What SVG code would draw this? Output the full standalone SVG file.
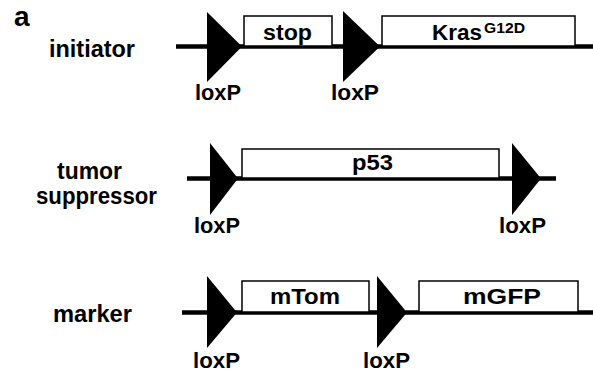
<svg xmlns="http://www.w3.org/2000/svg" width="593" height="375" viewBox="0 0 593 375">
<style>
text{font-family:"Liberation Sans",Arial,sans-serif;font-weight:bold;fill:#000}
.lbl{font-size:23px}
.box{fill:#fff;stroke:#000;stroke-width:1.5}
.dna{stroke:#000;stroke-width:4.5;fill:none}
.lox{fill:#000}
.bl{font-size:22px}
.lx{font-size:22px}
</style>
<rect width="593" height="375" fill="#fff"/>
<text x="14" y="26" style="font-size:28px">a</text>
<g id="connectors">
<line class="dna" x1="176" y1="46.5" x2="593" y2="46.5"/>
<line class="dna" x1="187" y1="178.5" x2="556" y2="178.5"/>
<line class="dna" x1="182" y1="312.5" x2="593" y2="312.5"/>
</g>
<g id="initiator">
<text class="lbl" x="49" y="57" textLength="86" lengthAdjust="spacingAndGlyphs">initiator</text>
<rect class="box" x="244" y="16" width="88" height="30"/>
<text class="bl" x="263" y="40" textLength="49" lengthAdjust="spacingAndGlyphs">stop</text>
<rect class="box" x="382" y="16" width="193" height="30"/>
<text class="bl" x="432" y="40" textLength="50" lengthAdjust="spacingAndGlyphs">Kras</text>
<text x="484" y="32.5" style="font-size:15px" textLength="41" lengthAdjust="spacingAndGlyphs">G12D</text>
<polygon class="lox" points="207,12 242,46.5 207,82"/>
<polygon class="lox" points="343,11 380,46.5 343,82"/>
<text class="lx" x="195" y="100" textLength="46" lengthAdjust="spacingAndGlyphs">loxP</text>
<text class="lx" x="331" y="100" textLength="48" lengthAdjust="spacingAndGlyphs">loxP</text>
</g>
<g id="tumor-suppressor">
<text class="lbl" x="57" y="179" textLength="65" lengthAdjust="spacingAndGlyphs">tumor</text>
<text class="lbl" x="36" y="204" textLength="121" lengthAdjust="spacingAndGlyphs">suppressor</text>
<rect class="box" x="242" y="149" width="257" height="29"/>
<text class="bl" x="352" y="170" textLength="41" lengthAdjust="spacingAndGlyphs">p53</text>
<polygon class="lox" points="210,143 238,178.5 210,215"/>
<polygon class="lox" points="512,143 541,178.5 512,215"/>
<text class="lx" x="194" y="233" textLength="46" lengthAdjust="spacingAndGlyphs">loxP</text>
<text class="lx" x="499" y="233" textLength="47" lengthAdjust="spacingAndGlyphs">loxP</text>
</g>
<g id="marker">
<text class="lbl" x="53" y="322" textLength="79" lengthAdjust="spacingAndGlyphs">marker</text>
<rect class="box" x="242" y="281" width="127" height="31"/>
<text class="bl" x="270" y="304" textLength="70" lengthAdjust="spacingAndGlyphs">mTom</text>
<rect class="box" x="419" y="281" width="159" height="31"/>
<text class="bl" x="463" y="304" textLength="78" lengthAdjust="spacingAndGlyphs">mGFP</text>
<polygon class="lox" points="207,276 237,312.5 207,348"/>
<polygon class="lox" points="377,276 407,312.5 377,348"/>
<text class="lx" x="193" y="368" textLength="47" lengthAdjust="spacingAndGlyphs">loxP</text>
<text class="lx" x="363" y="368" textLength="47" lengthAdjust="spacingAndGlyphs">loxP</text>
</g>
</svg>
